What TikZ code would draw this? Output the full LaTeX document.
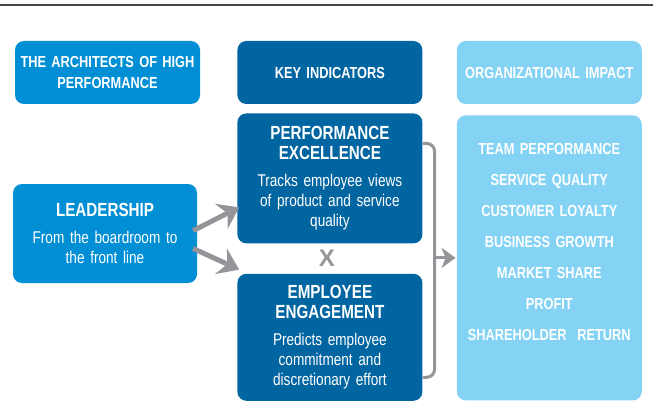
\documentclass[tikz,border=0pt]{standalone}
\usepackage{fontspec}
\setmainfont{Liberation Sans}[FakeStretch=0.8]
\newfontfamily\widefont{Liberation Sans}
\usepackage{tikz}
\usetikzlibrary{arrows.meta,positioning,calc}
\usepackage{xcolor}
\definecolor{leadblue}{RGB}{0,143,213}
\definecolor{indicatorblue}{RGB}{0,101,161}
\definecolor{impactblue}{RGB}{132,211,245}
\definecolor{connectgray}{RGB}{148,149,153}
\definecolor{rulegray}{RGB}{70,70,70}
\newcommand{\titlef}{\fontsize{16}{21}\selectfont\bfseries}
\newcommand{\headf}{\fontsize{19}{20}\selectfont\bfseries}
\newcommand{\bodyf}{\fontsize{17}{20}\selectfont\mdseries}
\newcommand{\listf}{\fontsize{16}{31}\selectfont\bfseries}

\begin{document}
\begin{tikzpicture}[x=1pt, y=-1pt,
    card/.style={rounded corners=9pt, text=white, inner sep=0pt, align=center,
      text width=176pt, minimum width=185pt},
    fatarrow/.style={line width=5pt, draw=connectgray,
      -{Stealth[length=20pt,width=28pt,inset=7pt]}},
    bracket/.style={line width=3pt, draw=connectgray, rounded corners=8pt},
    thinarrow/.style={line width=3pt, draw=connectgray,
      -{Stealth[length=14pt,width=20pt,inset=4pt]}}]
    \useasboundingbox (0,0) rectangle (653,401);
    \draw[line width=2pt, rulegray] (0,5) -- (653,5);

    % column heads
    \node[card, fill=leadblue, minimum height=63pt, font=\titlef] (archhead) at (107.5,72.5)
        {THE ARCHITECTS OF HIGH\\PERFORMANCE};
    \node[card, fill=indicatorblue, minimum height=63pt, font=\titlef, right=37pt of archhead] (keyhead)
        {KEY INDICATORS};
    \node[card, fill=impactblue, minimum height=63pt, font=\titlef, right=34pt of keyhead] (impacthead)
        {ORGANIZATIONAL IMPACT};

    % boxes
    \node[card, fill=leadblue, minimum width=184pt, minimum height=99pt, font=\bodyf] (leader) at (105,233.5)
        {\headf LEADERSHIP\\[7pt]\bodyf From the boardroom to\\the front line};
    \node[card, fill=indicatorblue, minimum height=130pt, font=\bodyf, below=9pt of keyhead] (perf)
        {\headf PERFORMANCE\\EXCELLENCE\\[7pt]\bodyf Tracks employee views\\of product and service\\quality};
    \node[card, fill=indicatorblue, minimum height=127pt, font=\bodyf, below=30pt of perf] (engage)
        {\headf EMPLOYEE\\ENGAGEMENT\\[7pt]\bodyf Predicts employee\\commitment and\\discretionary effort};
    \node[card, fill=impactblue, minimum height=285pt, below=11pt of impacthead] (impact) {};
    \node[text=white, inner sep=0pt, align=center, text width=176pt, font=\listf, anchor=north]
        (impactlist) at ([yshift=-28pt]impact.north)
        {TEAM PERFORMANCE\\SERVICE QUALITY\\CUSTOMER LOYALTY\\BUSINESS GROWTH\\MARKET SHARE\\PROFIT\\SHAREHOLDER\ \ RETURN};

    \node[font=\widefont\fontsize{24}{24}\selectfont\bfseries, text=connectgray, inner sep=0pt] (times)
        at ($(perf.south)!0.5!(engage.north)+(-3,0)$) {X};

    % connectors
    \draw[fatarrow] ([xshift=-4pt,yshift=3pt]leader.east) -- ([xshift=2pt,yshift=-29pt]perf.west);
    \draw[fatarrow] ([xshift=-4pt,yshift=-15pt]leader.east) -- ([xshift=2pt,yshift=4pt]engage.north west);
    \coordinate (join) at ([xshift=-22pt]impact.west);
    \draw[bracket] ([yshift=35pt]perf.east) -| (join) |- ([yshift=-40pt]engage.east);
    \draw[thinarrow] (join) -- ([xshift=-1pt]impact.west);
\end{tikzpicture}
\end{document}
